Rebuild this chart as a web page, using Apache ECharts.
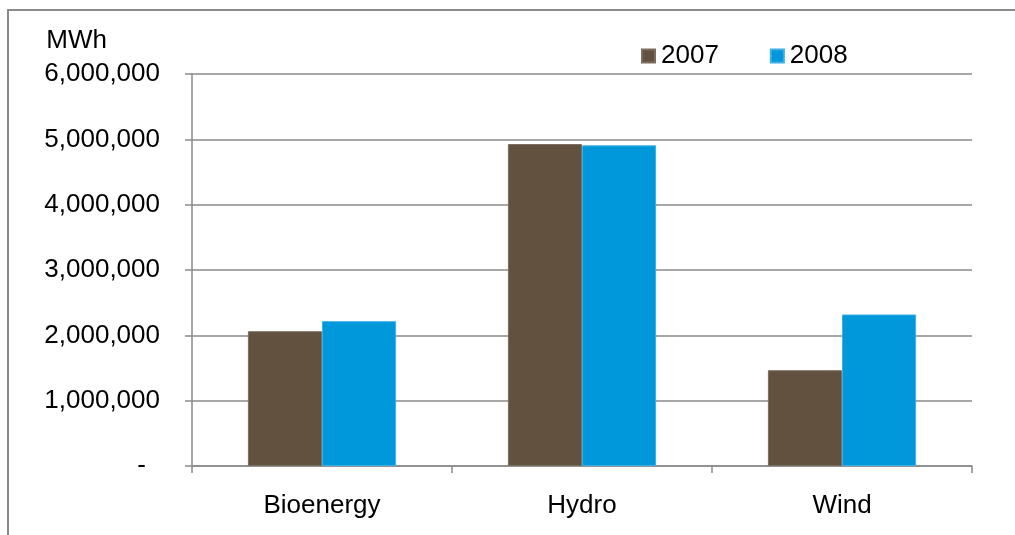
<!DOCTYPE html>
<html>
<head>
<meta charset="utf-8">
<script src="https://cdn.jsdelivr.net/npm/echarts@6/dist/echarts.min.js"></script>
<style>
  html, body { margin: 0; padding: 0; background: #fff; }
  #chart { width: 1015px; height: 535px; }
</style>
</head>
<body>
<div id="chart"></div>
<script>
// Renewable electricity generation by source, MWh
const categories = ['Bioenergy', 'Hydro', 'Wind'];
const seriesNames = ['2007', '2008'];
const values2007 = [2063000, 4928000, 1466000];
const values2008 = [2217000, 4908000, 2319000];
const yTicks = [0, 1000000, 2000000, 3000000, 4000000, 5000000, 6000000];

const FONT = '"Liberation Sans", Arial, sans-serif';
const FS = 26;
const GRID_COLOR = '#8a8a8a';

const chart = echarts.init(document.getElementById('chart'), null, { renderer: 'canvas' });

chart.setOption({
  animation: false,
  backgroundColor: '#fff',
  textStyle: { fontFamily: FONT, color: '#000' },
  // chart-area frame: top and left edges
  graphic: [
    {
      type: 'line', silent: true,
      shape: { x1: 7, y1: 10, x2: 1015, y2: 10 },
      style: { stroke: '#8a8a8a', lineWidth: 2 }
    },
    {
      type: 'line', silent: true,
      shape: { x1: 8, y1: 9, x2: 8, y2: 535 },
      style: { stroke: '#8a8a8a', lineWidth: 2 }
    }
  ],
  legend: {
    data: seriesNames,
    left: 641,
    top: 43,
    padding: 0,
    itemWidth: 13,
    itemHeight: 13,
    itemGap: 51,
    icon: 'rect',
    textStyle: { fontFamily: FONT, fontSize: FS, color: '#000', padding: [0, 0, 0, 1] }
  },
  grid: { left: 192, right: 43, top: 74, bottom: 69, containLabel: false },
  xAxis: {
    type: 'category',
    data: categories,
    axisLine: { lineStyle: { color: GRID_COLOR, width: 1.5 } },
    axisTick: { show: true, length: 7, lineStyle: { color: GRID_COLOR, width: 1.5 } },
    axisLabel: { fontFamily: FONT, fontSize: FS, color: '#000', margin: 27 }
  },
  yAxis: {
    type: 'value',
    min: yTicks[0],
    max: yTicks[yTicks.length - 1],
    interval: yTicks[1] - yTicks[0],
    name: 'MWh',
    nameLocation: 'end',
    nameGap: 20,
    nameTextStyle: {
      fontFamily: FONT, fontSize: FS, color: '#000',
      align: 'right', verticalAlign: 'bottom', padding: [0, 85, 0, 0]
    },
    axisLine: { show: true, lineStyle: { color: GRID_COLOR, width: 1.5 } },
    axisTick: { show: true, length: 7, lineStyle: { color: GRID_COLOR, width: 1.5 } },
    splitLine: { show: true, lineStyle: { color: GRID_COLOR, width: 1.5 } },
    axisLabel: {
      fontFamily: FONT, fontSize: FS, color: '#000', margin: 32,
      formatter: function (v) {
        return v === 0 ? '{z|-}' : v.toLocaleString('en-US');
      },
      rich: { z: { fontFamily: FONT, fontSize: FS, color: '#000', padding: [0, 14, 0, 0] } }
    }
  },
  series: [
    {
      name: seriesNames[0],
      type: 'bar',
      data: values2007,
      barGap: '0%',
      barCategoryGap: '43%',
      itemStyle: { color: '#62513f', borderColor: '#7a6e62', borderWidth: 1 }
    },
    {
      name: seriesNames[1],
      type: 'bar',
      data: values2008,
      barGap: '0%',
      barCategoryGap: '43%',
      itemStyle: { color: '#0097db', borderColor: '#3db0e6', borderWidth: 1 }
    }
  ]
});
</script>
</body>
</html>
